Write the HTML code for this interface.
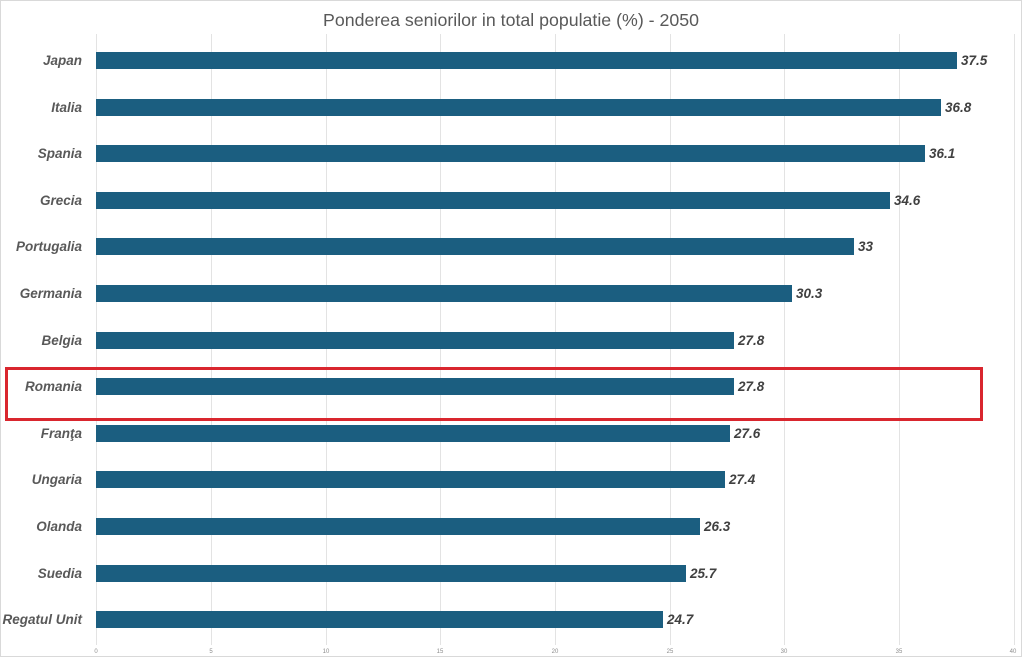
<!DOCTYPE html>
<html>
<head>
<meta charset="utf-8">
<style>
  html,body{margin:0;padding:0;background:#fff;}
  svg{display:block;}
  .cat{font-family:"Liberation Sans",sans-serif;font-weight:bold;font-style:italic;font-size:13.5px;fill:#595959;}
  .val{font-family:"Liberation Sans",sans-serif;font-weight:bold;font-style:italic;font-size:13.5px;fill:#404040;}
  .tick{font-family:"Liberation Sans",sans-serif;font-size:6px;fill:#8c8c8c;}
  .title{font-family:"Liberation Sans",sans-serif;font-size:17.5px;fill:#595959;}
</style>
</head>
<body>
<svg width="1024" height="667" viewBox="0 0 1024 667" xmlns="http://www.w3.org/2000/svg">
  <rect x="0" y="0" width="1024" height="667" fill="#fff"/>
  <rect x="0.5" y="0.5" width="1021" height="656" fill="#fff" stroke="#d9d9d9" stroke-width="1"/>
  <text class="title" x="511" y="26" text-anchor="middle" textLength="376" lengthAdjust="spacingAndGlyphs">Ponderea seniorilor in total populatie (%) - 2050</text>

  <g stroke="#e3e3e3" stroke-width="1">
    <line x1="96.5" y1="34" x2="96.5" y2="645"/>
    <line x1="211.5" y1="34" x2="211.5" y2="645"/>
    <line x1="326.5" y1="34" x2="326.5" y2="645"/>
    <line x1="440.5" y1="34" x2="440.5" y2="645"/>
    <line x1="555.5" y1="34" x2="555.5" y2="645"/>
    <line x1="670.5" y1="34" x2="670.5" y2="645"/>
    <line x1="784.5" y1="34" x2="784.5" y2="645"/>
    <line x1="899.5" y1="34" x2="899.5" y2="645"/>
    <line x1="1014.5" y1="34" x2="1014.5" y2="645"/>
  </g>
  <g class="tick" text-anchor="middle">
    <text x="96" y="653">0</text>
    <text x="211" y="653">5</text>
    <text x="326" y="653">10</text>
    <text x="440" y="653">15</text>
    <text x="555" y="653">20</text>
    <text x="670" y="653">25</text>
    <text x="784" y="653">30</text>
    <text x="899" y="653">35</text>
    <text x="1013" y="653">40</text>
  </g>

  <g fill="#1b5e80">
    <rect x="96" y="52" width="861" height="17"/>
    <rect x="96" y="99" width="845" height="17"/>
    <rect x="96" y="145" width="829" height="17"/>
    <rect x="96" y="192" width="794" height="17"/>
    <rect x="96" y="238" width="758" height="17"/>
    <rect x="96" y="285" width="696" height="17"/>
    <rect x="96" y="332" width="638" height="17"/>
    <rect x="96" y="378" width="638" height="17"/>
    <rect x="96" y="425" width="634" height="17"/>
    <rect x="96" y="471" width="629" height="17"/>
    <rect x="96" y="518" width="604" height="17"/>
    <rect x="96" y="565" width="590" height="17"/>
    <rect x="96" y="611" width="567" height="17"/>
  </g>

  <g class="cat" text-anchor="end">
    <text x="82" y="65">Japan</text>
    <text x="82" y="112">Italia</text>
    <text x="82" y="158">Spania</text>
    <text x="82" y="205">Grecia</text>
    <text x="82" y="251">Portugalia</text>
    <text x="82" y="298">Germania</text>
    <text x="82" y="345">Belgia</text>
    <text x="82" y="391">Romania</text>
    <text x="82" y="438">Franţa</text>
    <text x="82" y="484">Ungaria</text>
    <text x="82" y="531">Olanda</text>
    <text x="82" y="578">Suedia</text>
    <text x="82" y="624">Regatul Unit</text>
  </g>

  <g class="val">
    <text x="961" y="65">37.5</text>
    <text x="945" y="112">36.8</text>
    <text x="929" y="158">36.1</text>
    <text x="894" y="205">34.6</text>
    <text x="858" y="251">33</text>
    <text x="796" y="298">30.3</text>
    <text x="738" y="345">27.8</text>
    <text x="738" y="391">27.8</text>
    <text x="734" y="438">27.6</text>
    <text x="729" y="484">27.4</text>
    <text x="704" y="531">26.3</text>
    <text x="690" y="578">25.7</text>
    <text x="667" y="624">24.7</text>
  </g>

  <rect x="6.5" y="368.5" width="975" height="51" fill="none" stroke="#d9262e" stroke-width="3"/>
</svg>
</body>
</html>
